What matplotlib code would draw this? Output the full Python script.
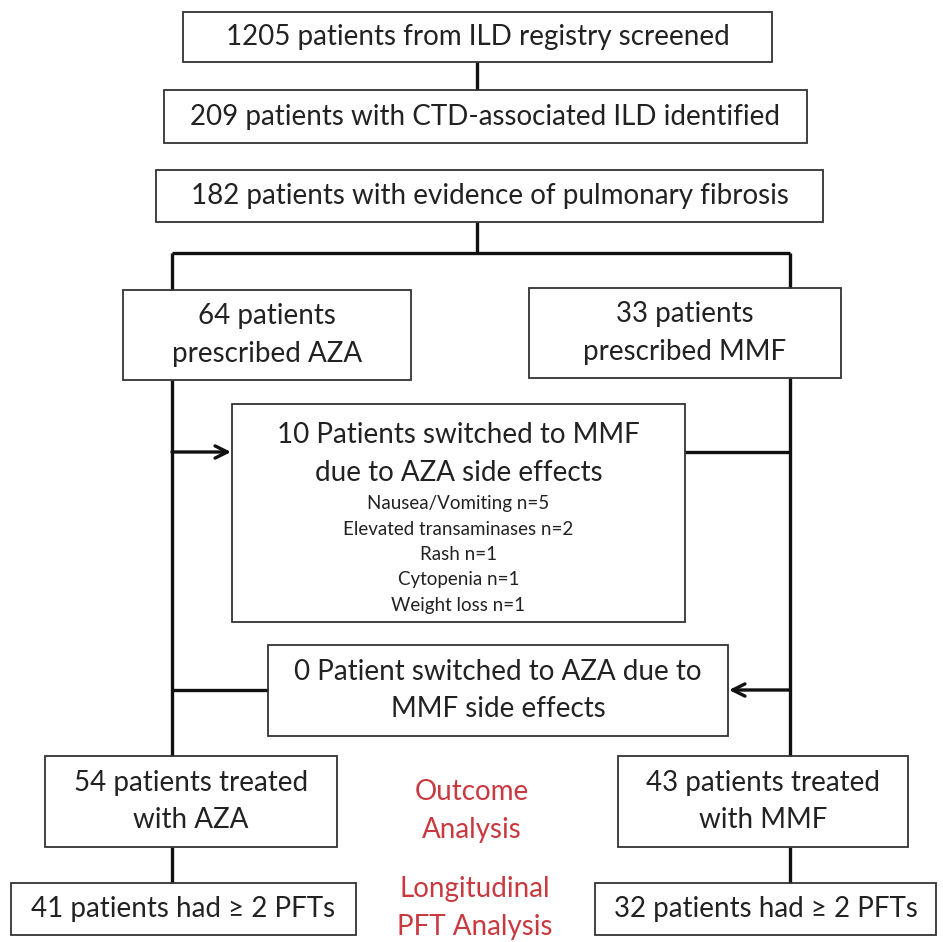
import matplotlib
matplotlib.use("Agg")
import matplotlib.pyplot as plt
from matplotlib.patches import Rectangle

plt.rcParams['font.family'] = ['Lato', 'DejaVu Sans']

# box texts
box_texts = [
    "1205 patients from ILD registry screened",
    "209 patients with CTD-associated ILD identified",
    "182 patients with evidence of pulmonary fibrosis",
    "64 patients\nprescribed AZA",
    "33 patients\nprescribed MMF",
    "10 Patients switched to MMF\ndue to AZA side effects",
    "0 Patient switched to AZA due to\nMMF side effects",
    "54 patients treated\nwith AZA",
    "43 patients treated\nwith MMF",
    "41 patients had \u2265 2 PFTs",
    "32 patients had \u2265 2 PFTs",
]
# box extents in pixels: left, top, right, bottom
box_extents = [
    (183, 12, 772, 62),
    (164, 90, 807, 143),
    (156, 170, 823, 222),
    (123, 290, 411, 380),
    (529, 288, 841, 378),
    (232, 404, 685, 622),
    (268, 645, 728, 736),
    (45, 756, 337, 847),
    (618, 756, 908, 847),
    (11, 883, 356, 935),
    (595, 883, 936, 935),
]
side_effects = ["Nausea/Vomiting n=5", "Elevated transaminases n=2",
                "Rash n=1", "Cytopenia n=1", "Weight loss n=1"]
red_labels = ["Outcome\nAnalysis", "Longitudinal\nPFT Analysis"]

fig = plt.figure(figsize=(9.43, 9.42), dpi=100)
ax = fig.add_axes([0, 0, 1, 1])
ax.set_xlim(0, 943)
ax.set_ylim(942, 0)
ax.axis('off')

fs = 20
ls = 1.55
for (l, t, r, b), txt in zip(box_extents, box_texts):
    ax.add_patch(Rectangle((l, t), r - l, b - t, fill=False,
                           edgecolor='#333333', lw=1.3, zorder=2))
# text of boxes
for i, ((l, t, r, b), txt) in enumerate(zip(box_extents, box_texts)):
    cx = (l + r) / 2
    if i == 5:
        ax.text(cx, 454, txt, ha='center', va='center', fontsize=fs,
                linespacing=ls, color='#222222')
        for k, s in enumerate(side_effects):
            ax.text(cx, 504 + k * 25.3, s, ha='center', va='center',
                    fontsize=13.5, color='#222222')
    else:
        ax.text(cx, (t + b) / 2, txt, ha='center', va='center', fontsize=fs,
                linespacing=ls, color='#222222')

red = '#c83a40'
ax.text(472, 811, red_labels[0], ha='center', va='center', fontsize=fs,
        color=red, linespacing=ls)
ax.text(475, 908, red_labels[1], ha='center', va='center', fontsize=fs,
        color=red, linespacing=ls)

lw = 2.4
kw = dict(color='#111111', lw=lw, solid_capstyle='butt', zorder=1)
xl, xr, xm = 172, 790, 477
ax.plot([xm, xm], [62, 90], **kw)
ax.plot([xm, xm], [222, 253], **kw)
ax.plot([xl, xr], [253, 253], **kw)
ax.plot([xl, xl], [253, 290], **kw)
ax.plot([xr, xr], [253, 288], **kw)
ax.plot([xl, xl], [380, 756], **kw)
ax.plot([xr, xr], [378, 756], **kw)
ax.plot([xl, xl], [847, 883], **kw)
ax.plot([xr, xr], [847, 883], **kw)
ax.plot([685, xr], [452, 452], **kw)
ax.plot([xl, 268], [690, 690], **kw)
ax.annotate('', xy=(231, 452), xytext=(xl, 452),
            arrowprops=dict(arrowstyle='->', lw=lw, color='#111111',
                            mutation_scale=22, shrinkA=0, shrinkB=0))
ax.annotate('', xy=(729, 690), xytext=(xr, 690),
            arrowprops=dict(arrowstyle='->', lw=lw, color='#111111',
                            mutation_scale=22, shrinkA=0, shrinkB=0))

fig.savefig('out.png', dpi=100, facecolor='white')
